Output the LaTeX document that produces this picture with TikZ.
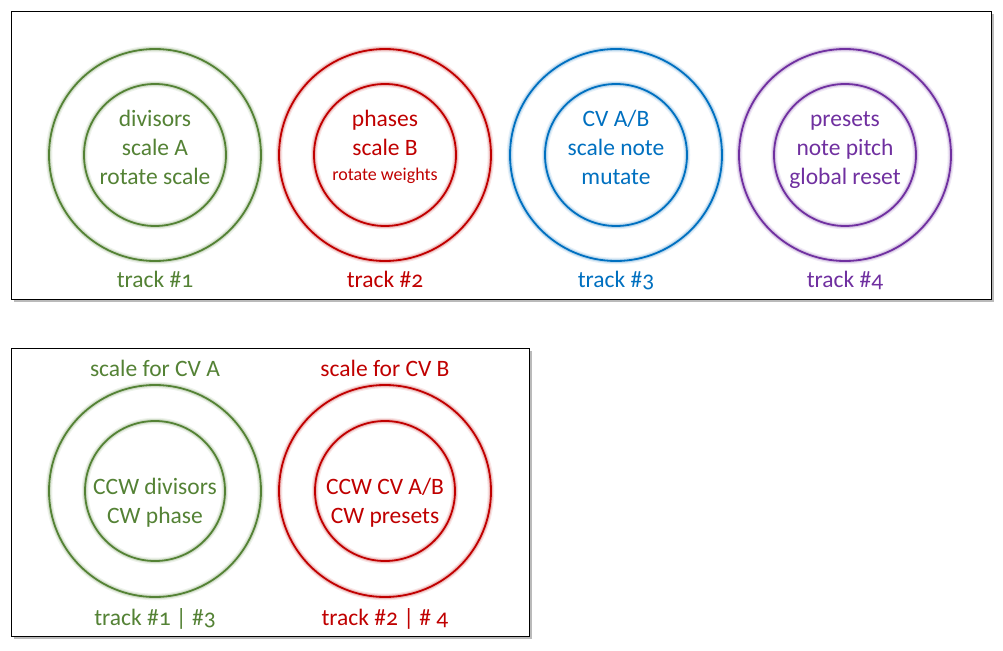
\documentclass[tikz,border=0pt]{standalone}
\usepackage{fontspec}
\setmainfont{Carlito}[Numbers=OldStyle]
\usetikzlibrary{shadows}
\definecolor{grn}{HTML}{548235}
\definecolor{rd}{HTML}{C00000}
\definecolor{bl}{HTML}{0070C0}
\definecolor{pur}{HTML}{7030A0}
\tikzset{
  ring/.style={circle, draw=#1, line width=1.8pt, inner sep=0pt, outer sep=0pt,
    preaction={draw=#1, line width=6.5pt, draw opacity=0.10},
    preaction={draw=#1, line width=4pt, draw opacity=0.18}},
  outerring/.style={ring=#1, minimum size=212pt},
  innerring/.style={ring=#1, minimum size=142pt},
  innerringb/.style={ring=#1, minimum size=140pt},
  txt/.style={text=#1, anchor=base, inner sep=0pt, font=\fontsize{23.5}{28.5}\selectfont},
  smalltxt/.style={text=#1, anchor=base, inner sep=0pt, font=\fontsize{18}{22}\selectfont},
  panel/.style={draw=black, line width=0.9pt, fill=white,
    drop shadow={shadow xshift=3pt, shadow yshift=-3pt, opacity=0.45, fill=black!60}}
}
\begin{document}
\begin{tikzpicture}[x=1pt, y=-1pt]
\useasboundingbox (0,0) rectangle (1003,650);
% panels
\draw[panel] (11,11) rectangle (991,299);
\draw[panel] (11,348) rectangle (529,636);
% top row rings
\node[outerring=grn] (o1) at (155,155) {};
\node[innerring=grn] (i1) at (155,155) {};
\node[outerring=rd] (o2) at (385,155) {};
\node[innerring=rd] (i2) at (385,155) {};
\node[outerring=bl] (o3) at (616,155) {};
\node[innerring=bl] (i3) at (616,155) {};
\node[outerring=pur] (o4) at (845,155) {};
\node[innerring=pur] (i4) at (845,155) {};
% top row texts
\node[txt=grn] (a1) at (155,126) {divisors};
\node[txt=grn] (a2) at (155,155) {scale A};
\node[txt=grn] (a3) at (155,184) {rotate scale};
\node[txt=rd] (b1) at (385,126) {phases};
\node[txt=rd] (b2) at (385,155) {scale B};
\node[smalltxt=rd] (b3) at (385,180) {rotate weights};
\node[txt=bl] (c1) at (616,126) {CV A/B};
\node[txt=bl] (c2) at (616,155) {scale note};
\node[txt=bl] (c3) at (616,184) {mutate};
\node[txt=pur] (d1) at (845,126) {presets};
\node[txt=pur] (d2) at (845,155) {note pitch};
\node[txt=pur] (d3) at (845,184) {global reset};
\node[txt=grn] (l1) at (155,287) {track \#1};
\node[txt=rd] (l2) at (385,287) {track \#2};
\node[txt=bl] (l3) at (616,287) {track \#3};
\node[txt=pur] (l4) at (845,287) {track \#4};
% bottom rings
\node[outerring=grn] (o5) at (155,491) {};
\node[innerringb=grn] (i5) at (155,491) {};
\node[outerring=rd] (o6) at (385,491) {};
\node[innerringb=rd] (i6) at (385,491) {};
% bottom texts
\node[txt=grn] (e0) at (155,376) {scale for CV A};
\node[txt=grn] (e1) at (155,494) {CCW divisors};
\node[txt=grn] (e2) at (155,523) {CW phase};
\node[txt=grn] (e3) at (155,625) {track \#1 | \#3};
\node[txt=rd] (f0) at (385,376) {scale for CV B};
\node[txt=rd] (f1) at (385,494) {CCW CV A/B};
\node[txt=rd] (f2) at (385,523) {CW presets};
\node[txt=rd] (f3) at (385,625) {track \#2 | \# 4};
\end{tikzpicture}
\end{document}
